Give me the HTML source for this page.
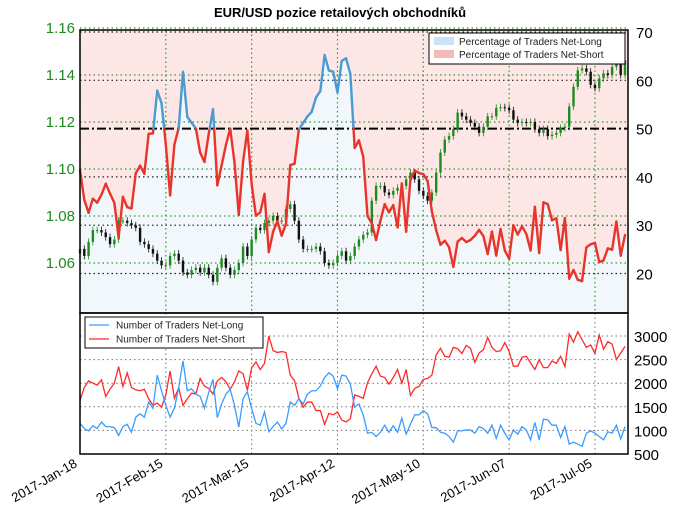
<!DOCTYPE html>
<html><head><meta charset="utf-8"><style>
html,body{margin:0;padding:0;background:#fff;}
svg{display:block;font-family:"Liberation Sans","DejaVu Sans",sans-serif;}
</style></head><body>
<svg id="chart" width="680" height="519" viewBox="0 0 680 519"></svg>
<script>
// ---- data ----
const tickLabels=["2017-Jan-18","2017-Feb-15","2017-Mar-15","2017-Apr-12","2017-May-10","2017-Jun-07","2017-Jul-05"];
const tickIndex=[0,20,40,60,80,100,120];
const priceTicks=[1.16,1.14,1.12,1.10,1.08,1.06];
const pctTicks=[70,60,50,40,30,20];
const countTicks=[3000,2500,2000,1500,1000,500];
const closes=[1.066,1.063,1.069,1.074,1.074,1.073,1.071,1.068,1.070,1.078,1.078,1.077,1.076,1.075,1.069,1.068,1.066,1.064,1.061,1.059,
1.059,1.063,1.064,1.061,1.056,1.055,1.057,1.058,1.056,1.058,1.055,1.052,1.058,1.062,1.058,1.055,1.057,1.060,1.067,1.063,
1.070,1.075,1.074,1.077,1.078,1.080,1.078,1.078,1.083,1.085,1.078,1.070,1.066,1.066,1.066,1.067,1.065,1.060,1.059,1.060,
1.063,1.065,1.061,1.063,1.067,1.070,1.072,1.073,1.0865,1.0928,1.0928,1.090,1.089,1.0907,1.092,1.0928,1.0956,1.0985,1.0956,1.0907,
1.0886,1.0865,1.090,1.0985,1.107,1.1125,1.114,1.117,1.124,1.1224,1.121,1.1196,1.118,1.1154,1.118,1.1224,1.1224,1.126,1.1263,1.126,
1.125,1.121,1.1196,1.120,1.1196,1.120,1.117,1.1154,1.117,1.114,1.1146,1.1154,1.1175,1.118,1.1266,1.135,1.142,1.1428,1.1414,1.1358,
1.1344,1.1386,1.1407,1.140,1.1435,1.145,1.140,1.1463];
const netLong=[1150,1040,990,1100,1040,1180,1080,1080,1060,890,1080,1130,960,1280,1350,1280,1600,1470,2170,1840,
1530,1280,1470,1910,2470,1840,1880,1770,1720,1470,1810,2080,1270,1560,1770,1870,1530,1070,1670,1820,
1460,1150,1110,1390,970,1080,1180,1030,1150,1600,1530,1670,1560,1770,1840,1840,1940,2120,2220,2150,
1880,2170,2150,1980,1490,1560,1330,940,960,870,960,1110,960,1100,960,1260,920,1130,1330,1330,
1420,1350,1060,1060,960,940,870,750,990,990,1010,1010,940,1080,1040,940,1110,830,1110,940,
800,1010,920,1080,1010,800,1170,800,1240,1220,1110,1110,850,1080,710,750,710,660,940,990,
940,870,800,970,940,1110,820,1080];
const netShort=[1630,1910,2050,2000,1960,2070,1720,1875,2000,2350,1930,2220,1910,1860,1840,1870,1670,1530,1580,1490,
1750,2260,1680,1900,1530,1670,1790,1770,2100,1940,1890,1770,2050,2120,2030,1870,2030,2260,2200,1850,
2330,2450,2290,2420,3000,2690,2650,2670,2650,2170,2050,1680,1490,1600,1600,1420,1420,1130,1360,1330,
1390,1220,1180,1250,1750,1720,1680,2010,2200,2360,2150,2120,1980,2120,2290,2000,2290,1740,1890,1930,
2080,2100,2170,2600,2740,2570,2550,2760,2730,2630,2800,2740,2440,2640,2710,2970,2760,2670,2690,2860,
2670,2360,2360,2550,2570,2430,2290,2500,2330,2330,2470,2420,2570,2350,3040,2870,3090,2920,2760,2810,
2630,3020,2720,2880,2830,2500,2640,2780];
// ---- layout ----
const NS="http://www.w3.org/2000/svg";
const svg=document.getElementById('chart');
const L=80,R=628,T1=30,B1=313,T2=313,B2=454;
const n=closes.length;
const x=i=>L+i*(625-L)/(n-1);
const yP=p=>28+(1.16-p)*2350;
const yPct=v=>32+(70-v)*4.83;
const yC=v=>454-(v-500)*0.0472;
function mk(tag,attrs,parent){const e=document.createElementNS(NS,tag);for(const k in attrs)e.setAttribute(k,attrs[k]);(parent||svg).appendChild(e);return e;}
const pct=netLong.map((l,i)=>100*l/(l+netShort[i]));

// title
let t=mk('text',{x:340,y:17,'text-anchor':'middle','font-size':13,'font-weight':'bold'});t.textContent='EUR/USD pozice retailových obchodníků';



// top panel fills
let topPts=pct.map((v,i)=>x(i)+','+yPct(v)).join(' ');
let fillS=mk('polygon',{points:`${L},${T1} ${L},${yPct(pct[0])} ${topPts} ${R},${yPct(pct[n-1])} ${R},${T1}`,fill:'#fde6e6'});


let fillL=mk('polygon',{points:`${L},${B1} ${L},${yPct(pct[0])} ${topPts} ${R},${yPct(pct[n-1])} ${R},${B1}`,fill:'#f1f7fb'});



// gridlines top
priceTicks.forEach(p=>{let g=mk('line',{x1:L,x2:R,y1:yP(p),y2:yP(p),stroke:'#2e9a2e','stroke-width':1.2,'stroke-dasharray':'1.5,3'});

});
pctTicks.forEach(v=>{if(v===50)return;let g=mk('line',{x1:L,x2:R,y1:yPct(v),y2:yPct(v),stroke:'#222','stroke-width':1.2,'stroke-dasharray':'1.5,3'});

});
tickIndex.forEach(i=>{let g=mk('line',{x1:x(i),x2:x(i),y1:T1,y2:B1,stroke:'#2e9a2e','stroke-width':1.2,'stroke-dasharray':'1.5,3'});


let g2=mk('line',{x1:x(i),x2:x(i),y1:T2,y2:B2,stroke:'#777','stroke-width':1,'stroke-dasharray':'1.5,3'});

});
let ref=mk('line',{x1:L,x2:R,y1:yPct(50),y2:yPct(50),stroke:'#000','stroke-width':2,'stroke-dasharray':'9,3,2,3'});



// candles
closes.forEach((c,i)=>{
  const o=i?closes[i-1]:c-0.002;
  const up=c>=o;const col=up?'#1f8a1f':'#111';
  const hi=Math.max(o,c)+0.0015,lo=Math.min(o,c)-0.0015;
  let w=mk('line',{x1:x(i),x2:x(i),y1:yP(hi),y2:yP(lo),stroke:col,'stroke-width':0.8});
  
  
  let b=mk('rect',{x:x(i)-1.2,y:yP(Math.max(o,c)),width:2.4,height:Math.max(1,Math.abs(yP(o)-yP(c))),fill:col});
  
  
});

// pct line
for(let i=0;i<n-1;i++){
  const a=pct[i],b=pct[i+1];
  const draw=(x1,y1,x2,y2,v)=>{let s=mk('line',{x1,y1,x2,y2,stroke:v>=50?'#4b9bd1':'#e8352b','stroke-width':2.4,'stroke-linecap':'round'});
    
    };
  if((a-50)*(b-50)<0){const f=(50-a)/(b-a);const xm=x(i)+f*(x(i+1)-x(i));
    draw(x(i),yPct(a),xm,yPct(50),a);draw(xm,yPct(50),x(i+1),yPct(b),b);}
  else draw(x(i),yPct(a),x(i+1),yPct(b),(a+b)/2);
}

// bottom grid
countTicks.forEach(v=>{if(v===500)return;let g=mk('line',{x1:L,x2:R,y1:yC(v),y2:yC(v),stroke:'#777','stroke-width':1,'stroke-dasharray':'1.5,3'});

});
let pl=mk('polyline',{points:netShort.map((v,i)=>x(i)+','+yC(v)).join(' '),fill:'none',stroke:'#ff2a2a','stroke-width':1.3});


let pb=mk('polyline',{points:netLong.map((v,i)=>x(i)+','+yC(v)).join(' '),fill:'none',stroke:'#3a9cff','stroke-width':1.3});



// frames
let f1=mk('rect',{x:L,y:T1,width:R-L,height:B1-T1,fill:'none',stroke:'#000','stroke-width':1.5});


let f2=mk('rect',{x:L,y:T2,width:R-L,height:B2-T2,fill:'none',stroke:'#000','stroke-width':1.5});



// axis labels
priceTicks.forEach(p=>{let e=mk('text',{x:75,y:yP(p)+5,'text-anchor':'end','font-size':15,fill:'#1e8a1e'});e.textContent=p.toFixed(2);

});
pctTicks.forEach(v=>{let e=mk('text',{x:636,y:yPct(v)+6,'font-size':15,fill:'#000'});e.textContent=v;

});
countTicks.forEach(v=>{let e=mk('text',{x:634,y:yC(v)+6,'font-size':15,fill:'#000'});e.textContent=v;

});
tickIndex.forEach((i,k)=>{let e=mk('text',{x:0,y:0,'text-anchor':'end','font-size':13,transform:`translate(${x(i)-2},${466}) rotate(-30)`});e.textContent=tickLabels[k];

});

// top legend
let lg=mk('g',{});


mk('rect',{x:429,y:33,width:196,height:31,fill:'#fff',stroke:'#000','stroke-width':1},lg);
mk('rect',{x:434,y:37,width:20,height:8,fill:'#c9e2f7'},lg);
mk('rect',{x:434,y:50,width:20,height:8,fill:'#f7b8b8'},lg);
let lt1=mk('text',{x:459,y:45,'font-size':10,fill:'#222'},lg);lt1.textContent='Percentage of Traders Net-Long';
let lt2=mk('text',{x:459,y:58,'font-size':10,fill:'#222'},lg);lt2.textContent='Percentage of Traders Net-Short';
// bottom legend
let lg2=mk('g',{});


mk('rect',{x:85,y:317,width:178,height:31,fill:'#fff',stroke:'#000','stroke-width':1},lg2);
mk('line',{x1:89,x2:109,y1:325,y2:325,stroke:'#3a9cff','stroke-width':1.3},lg2);
mk('line',{x1:89,x2:109,y1:339,y2:339,stroke:'#ff2a2a','stroke-width':1.3},lg2);
let lt3=mk('text',{x:116,y:328.5,'font-size':10,fill:'#222'},lg2);lt3.textContent='Number of Traders Net-Long';
let lt4=mk('text',{x:116,y:342.5,'font-size':10,fill:'#222'},lg2);lt4.textContent='Number of Traders Net-Short';
</script>
</body></html>
